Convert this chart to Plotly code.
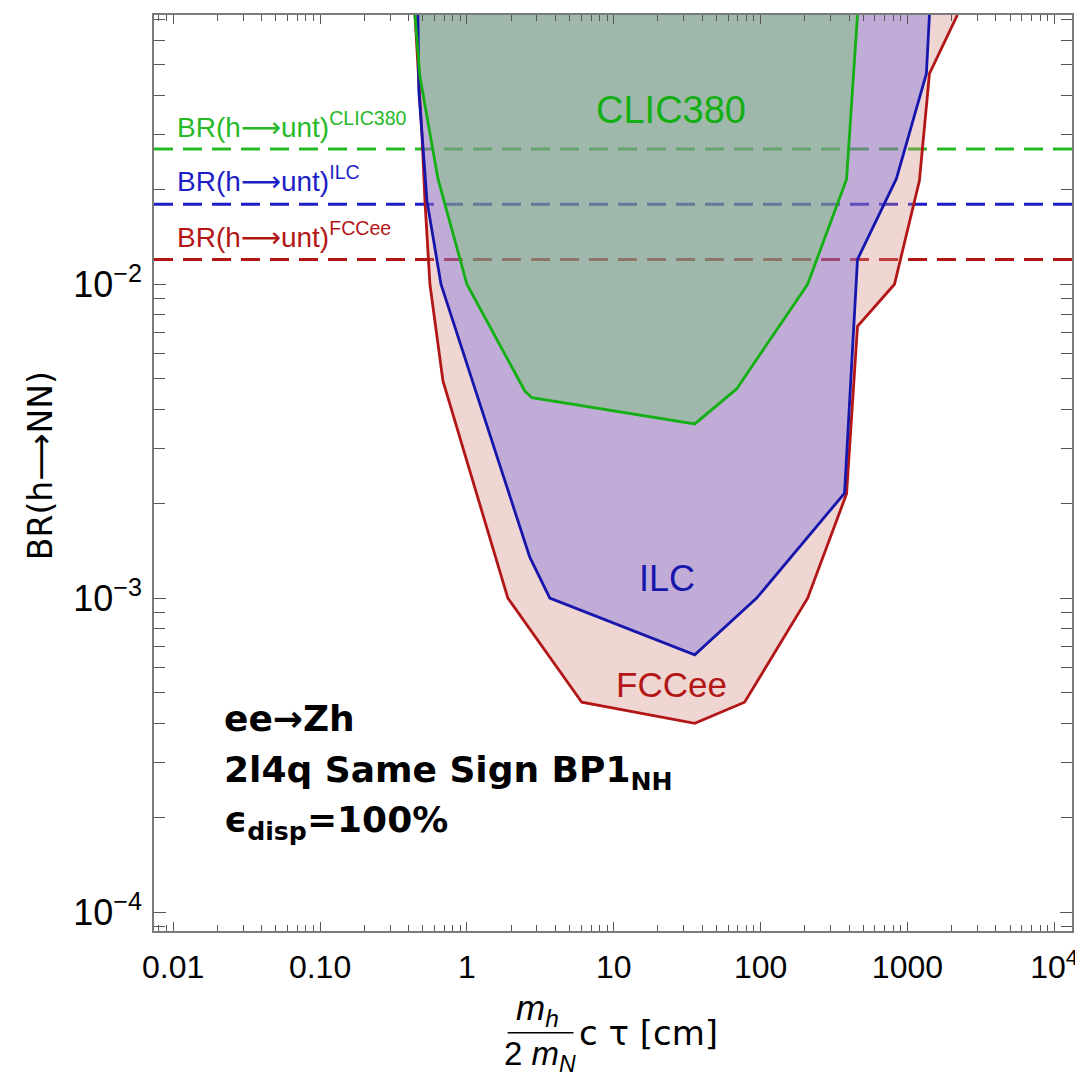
import numpy as np
import plotly.graph_objects as go

# ---------------- data ----------------
Y_TOP = 0.0721  # upper edge of the plot window

# FCCee exclusion boundary
fcc_x = [0.443, 0.494, 0.518, 0.560, 0.687, 1.90, 6.06, 35.6, 77.8, 209, 385, 457, 816, 1207, 1412, 2188]
fcc_y = [Y_TOP, 0.030, 0.0184, 0.0100, 0.00492, 0.00100, 0.000466, 0.000399, 0.000466, 0.00100, 0.00215, 0.00735, 0.0100, 0.0214, 0.0469, Y_TOP]

# ILC exclusion boundary
ilc_x = [0.464, 0.471, 0.535, 0.666, 2.68, 3.67, 35.6, 94, 373, 457, 841, 1346, 1412]
ilc_y = [Y_TOP, 0.0411, 0.0184, 0.0100, 0.00135, 0.00100, 0.00066, 0.00100, 0.00216, 0.0120, 0.0217, 0.0469, Y_TOP]

# CLIC380 exclusion boundary
clic_x = [0.443, 0.479, 0.635, 1.0, 2.48, 2.77, 35.6, 68.7, 209, 385, 457]
clic_y = [Y_TOP, 0.0458, 0.0217, 0.0100, 0.00457, 0.00435, 0.00359, 0.00464, 0.0100, 0.0216, Y_TOP]

# BR(h -> untagged) limits
br_unt = {"CLIC380": 0.027, "ILC": 0.018, "FCCee": 0.012}

x_range = [0.0074, 13200]
y_range = [8.7e-5, Y_TOP]

x_tickvals = [0.01, 0.1, 1, 10, 100, 1000, 10000]
x_ticktext = ["0.01", "0.10", "1", "10", "100", "1000", "10<sup>4</sup>"]
y_tickvals = [1e-4, 1e-3, 1e-2]
y_ticktext = ["10<sup>\u22124</sup>", "10<sup>\u22123</sup>", "10<sup>\u22122</sup>"]

# ---------------- styles ----------------
RED = "rgb(178,22,22)"
BLUE = "rgb(22,22,172)"
GREEN = "rgb(20,175,20)"
DASH_COL = {"CLIC380": "rgb(40,185,40)", "ILC": "rgb(30,30,200)", "FCCee": "rgb(180,22,22)"}
FILL = {"FCCee": "rgba(212,138,126,0.35)", "ILC": "rgba(103,94,227,0.35)", "CLIC380": "rgba(101,206,90,0.35)"}
FONT = "Liberation Sans, Arial, Helvetica, sans-serif"
DJV = "DejaVu Sans, Liberation Sans, sans-serif"
ARROW = "<span style=\"font-family:'DejaVu Sans'\">\u27f6</span>"

fig = go.Figure()

# dashed BR lines (underneath the translucent fills)
for name, val in br_unt.items():
    fig.add_trace(go.Scatter(x=x_range, y=[val, val], mode="lines",
                             line=dict(color=DASH_COL[name], width=3, dash="19px,10px"),
                             hoverinfo="skip"))

# fills
for name, xs, ys in [("FCCee", fcc_x, fcc_y), ("ILC", ilc_x, ilc_y), ("CLIC380", clic_x, clic_y)]:
    fig.add_trace(go.Scatter(x=xs, y=ys, mode="lines", fill="toself",
                             fillcolor=FILL[name], line=dict(width=0), hoverinfo="skip"))

# boundary lines
for col, xs, ys in [(RED, fcc_x, fcc_y), (BLUE, ilc_x, ilc_y), (GREEN, clic_x, clic_y)]:
    fig.add_trace(go.Scatter(x=xs, y=ys, mode="lines", line=dict(color=col, width=2.8),
                             hoverinfo="skip"))


def minor_vals(lo, hi):
    vals = []
    for d in range(int(np.floor(np.log10(lo))), int(np.ceil(np.log10(hi))) + 1):
        for k in range(2, 10):
            v = k * 10.0 ** d
            if lo <= v <= hi:
                vals.append(v)
    return vals


# page offset of the plot div (default body margin)
OFF = 8
W, H = 1083 - OFF, 1082 - OFF
# plot frame in screen pixels
FL, FR, FT, FB = 154, 1073, 13, 931
L, T = FL - OFF, FT - OFF
R, B = W - (FR - OFF), H - (FB - OFF)
pw, ph = W - L - R, H - T - B


def px(x):
    return (x - FL) / pw


def py(y):
    return (FB - y) / ph


axis_common = dict(showgrid=False, zeroline=False, showline=True, linecolor="#7a7a7a",
                   linewidth=1.6, mirror="ticks", ticks="inside", tickcolor="#555555",
                   ticklabeloverflow="allow")

fig.update_layout(
    width=W, height=H,
    margin=dict(l=L, r=R, t=T, b=B, pad=0),
    plot_bgcolor="white", paper_bgcolor="white",
    showlegend=False,
    xaxis=dict(type="log", range=[np.log10(x_range[0]), np.log10(x_range[1])],
               tickvals=x_tickvals, ticktext=x_ticktext, ticklen=9, tickwidth=1.3,
               ticklabelstandoff=7, tickfont=dict(family=FONT, size=32, color="black"),
               minor=dict(tickvals=minor_vals(*x_range), ticklen=6, tickwidth=1.1,
                          ticks="inside", tickcolor="#555555"),
               **axis_common),
    yaxis=dict(type="log", range=[np.log10(y_range[0]), np.log10(y_range[1])],
               tickvals=y_tickvals, ticktext=y_ticktext, ticklen=12, tickwidth=1.3,
               ticklabelstandoff=3, tickfont=dict(family=FONT, size=36, color="black"),
               minor=dict(tickvals=minor_vals(*y_range), ticklen=11, tickwidth=1.1,
                          ticks="inside", tickcolor="#555555"),
               **axis_common),
)

ann = []
# region labels
ann.append(dict(x=px(672), y=py(108), text="CLIC380", font=dict(family=FONT, size=38, color=GREEN)))
ann.append(dict(x=px(668), y=py(578), text="ILC", font=dict(family=FONT, size=36, color=BLUE)))
ann.append(dict(x=px(672), y=py(684), text="FCCee", font=dict(family=FONT, size=35, color=RED)))
# BR(h->unt) labels
for name, yy, col in [("CLIC380", 124, DASH_COL["CLIC380"]), ("ILC", 178, DASH_COL["ILC"]),
                      ("FCCee", 234, DASH_COL["FCCee"])]:
    ann.append(dict(x=px(175), y=py(yy), xanchor="left",
                    text=f"BR(h{ARROW}unt)<sup>{name}</sup>",
                    font=dict(family=FONT, size=28, color=col)))
# info text
for txt, yy in [("<b>ee\u2192Zh</b>", 718), ("<b>2l4q Same Sign BP1<sub>NH</sub></b>", 772),
                ("<b>\u03f5<sub>disp</sub>=100%</b>", 822)]:
    ann.append(dict(x=px(222), y=py(yy), xanchor="left", text=txt,
                    font=dict(family=DJV, size=36, color="black")))
# y axis title
ann.append(dict(x=px(40), y=py(465), text=f"BR(h{ARROW}NN)", textangle=-90,
                font=dict(family=DJV, size=33, color="black")))
# x axis title (fraction)
ann.append(dict(x=px(538), y=py(1010), text="<i>m</i><sub><i>h</i></sub>",
                font=dict(family=FONT, size=35, color="black")))
ann.append(dict(x=px(540), y=py(1056), text="2 <i>m</i><sub><i>N</i></sub>",
                font=dict(family=FONT, size=33, color="black")))
ann.append(dict(x=px(577), y=py(1033), xanchor="left", text="c \u03c4 [cm]",
                font=dict(family=DJV, size=34, color="black")))

for a in ann:
    a.setdefault("xanchor", "center")
    a.update(xref="paper", yref="paper", yanchor="middle", showarrow=False)
fig.update_layout(annotations=ann)

fig.add_shape(type="line", xref="paper", yref="paper", x0=px(508), x1=px(574),
              y0=py(1033), y1=py(1033), line=dict(color="black", width=1.6))

fig.write_html("out.html")
